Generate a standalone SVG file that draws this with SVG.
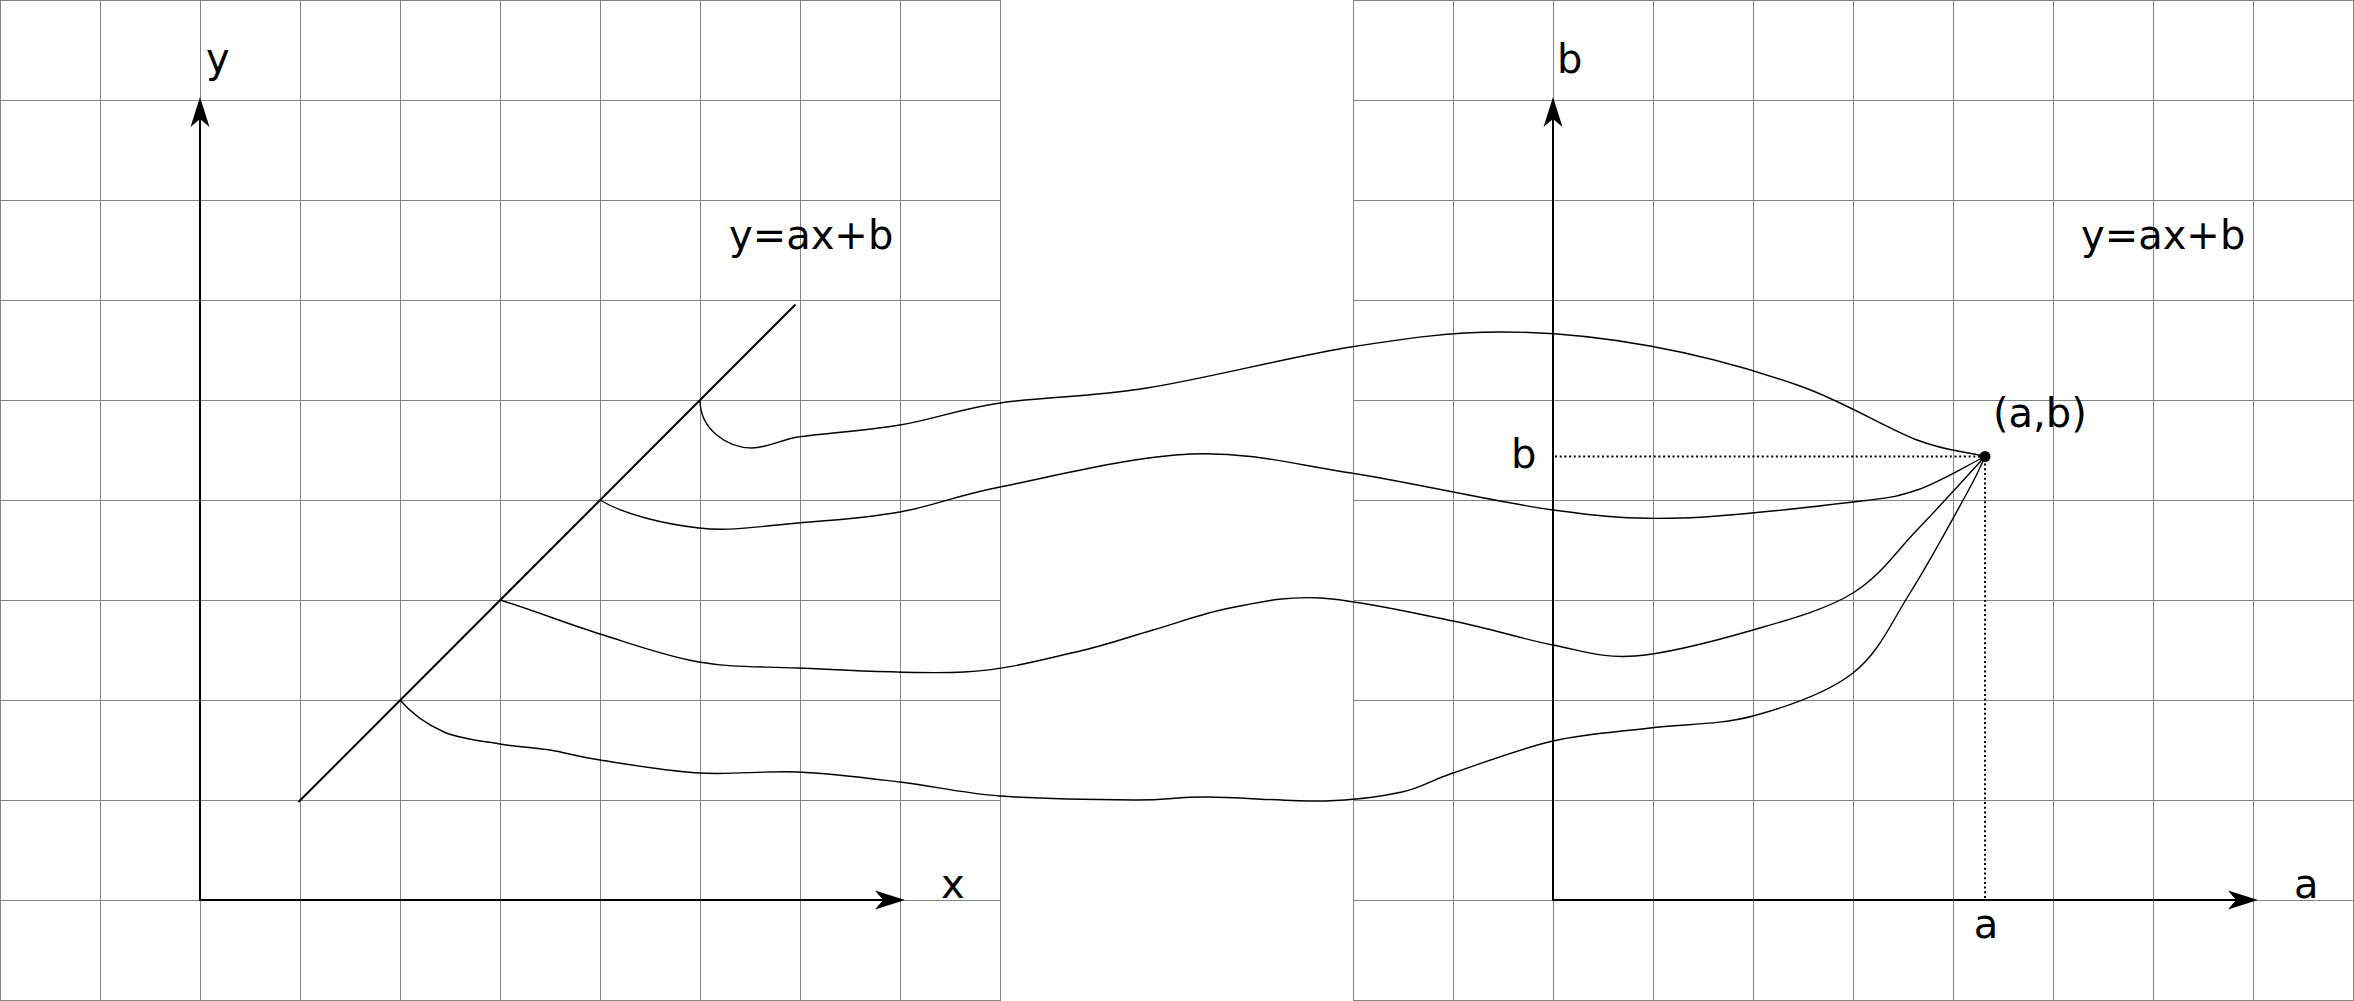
<svg xmlns="http://www.w3.org/2000/svg" width="2354" height="1001" viewBox="0 0 2354 1001">
<style>
.grid{stroke:#858585;stroke-width:1;fill:none}
.axis{stroke:#000;stroke-width:2;fill:none;marker-end:url(#arrow)}
.curve{stroke:#000;stroke-width:1.4;fill:none}
.dotted{stroke:#000;stroke-width:2;stroke-dasharray:2 2.7;fill:none}
.lbl{font-family:"DejaVu Sans","Liberation Sans",sans-serif;font-size:40px;fill:#000}
</style>
<defs>
<marker id="arrow" markerUnits="userSpaceOnUse" viewBox="-10 -11 34 22" refX="0" refY="0" markerWidth="34" markerHeight="22" orient="auto">
<path d="M22,0 L-8,-9.5 L0,0 L-8,9.5 Z" fill="#000"/>
</marker>
</defs>
<rect width="2354" height="1001" fill="#fff"/>
<g id="grid-left">
<path class="grid" d="M0.5,0V1001M100.5,0V1001M200.5,0V1001M300.5,0V1001M400.5,0V1001M500.5,0V1001M600.5,0V1001M700.5,0V1001M800.5,0V1001M900.5,0V1001M1000.5,0V1001M0,0.5H1001M0,100.5H1001M0,200.5H1001M0,300.5H1001M0,400.5H1001M0,500.5H1001M0,600.5H1001M0,700.5H1001M0,800.5H1001M0,900.5H1001M0,1000.5H1001"/>
</g>
<g id="grid-right">
<path class="grid" d="M1353.5,0V1001M1453.5,0V1001M1553.5,0V1001M1653.5,0V1001M1753.5,0V1001M1853.5,0V1001M1953.5,0V1001M2053.5,0V1001M2153.5,0V1001M2253.5,0V1001M2353.5,0V1001M1353,0.5H2354M1353,100.5H2354M1353,200.5H2354M1353,300.5H2354M1353,400.5H2354M1353,500.5H2354M1353,600.5H2354M1353,700.5H2354M1353,800.5H2354M1353,900.5H2354M1353,1000.5H2354"/>
</g>
<g id="axes-left">
<line class="axis" x1="200" y1="901" x2="200" y2="119"/>
<line class="axis" x1="199" y1="900" x2="883" y2="900"/>
<text class="lbl" x="206" y="72">y</text>
<text class="lbl" x="941" y="898">x</text>
</g>
<g id="axes-right">
<line class="axis" x1="1553" y1="901" x2="1553" y2="119"/>
<line class="axis" x1="1552" y1="900" x2="2236" y2="900"/>
<text class="lbl" x="1557" y="73">b</text>
<text class="lbl" x="2294" y="898">a</text>
</g>
<g id="line-yaxb">
<line x1="298.5" y1="802" x2="795.5" y2="304.5" stroke="#000" stroke-width="2"/>
<text class="lbl" x="729" y="249">y=ax+b</text>
</g>
<g id="label-right">
<text class="lbl" x="2081" y="249">y=ax+b</text>
</g>
<g id="point-ab">
<path class="dotted" d="M1555,456.5H1985V900"/>
<circle cx="1985" cy="456.5" r="5.5" fill="#000"/>
<text class="lbl" x="1993" y="427">(a,b)</text>
<text class="lbl" x="1511" y="468">b</text>
<text class="lbl" x="1986" y="938" text-anchor="middle">a</text>
</g>
<g id="connectors">
<path class="curve" d="M700,400 C700,430 728,448 752,448 C767,448 780,440 798,437 C822.7,433.2 866.3,430.7 900,425 C933.7,419.3 958.8,409.2 1000,403 C1041.2,396.8 1088.5,397.3 1147,388 C1205.5,378.7 1292.2,356.3 1351,347 C1409.8,337.7 1450.2,332.2 1500,332 C1549.8,331.8 1600,337 1650,346 C1700,355 1755.5,370.3 1800,386 C1844.5,401.7 1886.2,428.3 1917,440 C1947.8,451.7 1962.3,450.7 1985,456.5"/>
<path class="curve" d="M600,500 C625,515 666,524.2 699,528 C732,531.8 764.5,525.7 798,523 C831.5,520.3 866.3,518 900,512 C933.7,506 951.5,496.7 1000,487 C1048.5,477.3 1132.5,456.3 1191,454 C1249.5,451.7 1290.7,463.7 1351,473 C1411.3,482.3 1497.8,502.5 1553,510 C1608.2,517.5 1632,519.3 1682,518 C1732,516.7 1813.8,506.7 1853,502 C1892.2,497.3 1895,497.5 1917,490 C1939,482.5 1962.3,468 1985,456.5"/>
<path class="curve" d="M500,600 C533,610 566.8,623.7 600,634 C633.2,644.3 666,656.3 699,662 C732,667.7 753.8,666.3 798,668 C842.2,669.7 917.7,674.7 964,672 C1010.3,669.3 1044.5,659 1076,652 C1107.5,645 1127.3,637.3 1153,630 C1178.7,622.7 1202,613.3 1230,608 C1258,602.7 1283.8,595.8 1321,598 C1358.2,600.2 1414.3,613.2 1453,621 C1491.7,628.8 1522.7,639.2 1553,645 C1583.3,650.8 1601.7,658.5 1635,656 C1668.3,653.5 1716.7,640.5 1753,630 C1789.3,619.5 1825.7,609.7 1853,593 C1880.3,576.3 1895,552.7 1917,530 C1939,507.3 1962.3,481.3 1985,456.5"/>
<path class="curve" d="M400,700 C412,714 427.3,724.7 444,732 C460.7,739.3 482.3,741 500,744 C517.7,747 533.3,747.3 550,750 C566.7,752.7 575.2,756.2 600,760 C624.8,763.8 666,771 699,773 C732,775 764.5,770.5 798,772 C831.5,773.5 866.3,778 900,782 C933.7,786 961,793 1000,796 C1039,799 1099.5,799.8 1134,800 C1168.5,800.2 1175.2,796.8 1207,797 C1238.8,797.2 1292.5,801.8 1325,801 C1357.5,800.2 1380.7,796.7 1402,792 C1423.3,787.3 1427.8,781.5 1453,773 C1478.2,764.5 1520.2,748.5 1553,741 C1585.8,733.5 1616.7,732.2 1650,728 C1683.3,723.8 1719.2,725.2 1753,716 C1786.8,706.8 1826.8,693.5 1853,673 C1879.2,652.5 1891,623 1910,593 C1929,563 1954.5,515.7 1967,493 C1979.5,470.3 1981,465 1985,456.5"/>
</g>
</svg>
